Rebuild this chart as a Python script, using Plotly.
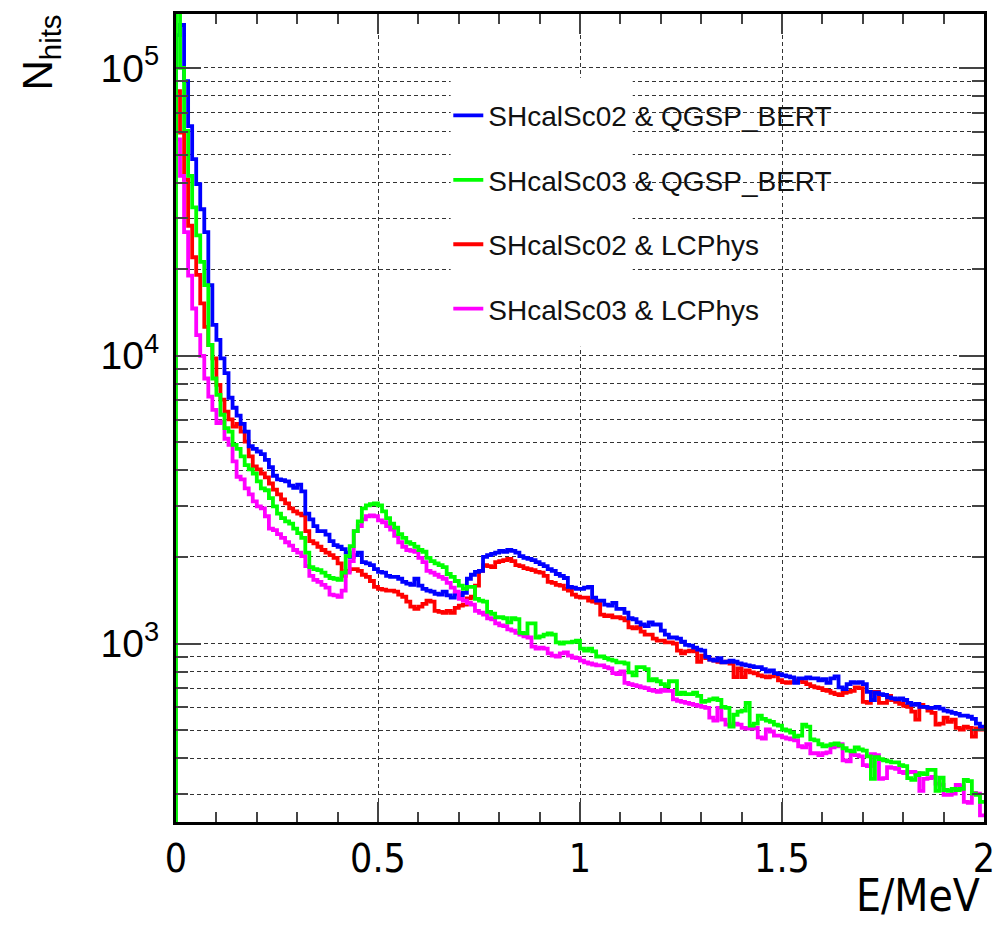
import numpy as np
import plotly.graph_objects as go

# Histogram: 200 bins of 0.01 MeV between 0 and 2 MeV
bin_width = 0.01
n_bins = 200
bin_edges = np.round(np.arange(n_bins + 1) * bin_width, 2)

labels = ["SHcalSc02 & QGSP_BERT", "SHcalSc03 & QGSP_BERT",
          "SHcalSc02 & LCPhys", "SHcalSc03 & LCPhys"]
colors = ["#0000ff", "#00ff00", "#ff0000", "#ff00ff"]

sc02_qgsp = [
    130000, 141000, 90000, 62800, 48200, 39500, 32300, 26900, 17600, 12800,
    11350, 9800, 8700, 7150, 6600, 6200, 5800, 5450, 4850, 4750,
    4650, 4550, 4350, 4100, 3830, 3720, 3700, 3660, 3540, 3480,
    3570, 3380, 2830, 2700, 2560, 2460, 2460, 2390, 2270, 2200,
    2170, 2130, 2070, 2000, 2030, 2070, 1920, 1900, 1875, 1815,
    1775, 1765, 1720, 1705, 1705, 1680, 1640, 1615, 1600, 1680,
    1590, 1550, 1528, 1515, 1490, 1480, 1515, 1470, 1445, 1490,
    1470, 1500, 1680, 1735, 1775, 1790, 2000, 2030, 2050, 2070,
    2100, 2085, 2115, 2100, 2070, 2015, 1985, 1970, 1950, 1920,
    1890, 1860, 1815, 1790, 1745, 1720, 1690, 1575, 1565, 1550,
    1550, 1565, 1575, 1445, 1410, 1410, 1365, 1355, 1385, 1320,
    1320, 1280, 1225, 1215, 1185, 1165, 1150, 1185, 1165, 1165,
    1110, 1075, 1050, 1050, 1040, 1015, 990, 984, 968, 953,
    946, 900, 880, 873, 890, 860, 865, 873, 865, 853,
    846, 840, 835, 828, 828, 815, 800, 807, 790, 783,
    776, 770, 763, 730, 757, 757, 763, 757, 757, 746,
    752, 730, 757, 770, 705, 695, 723, 735, 730, 735,
    723, 680, 637, 675, 668, 663, 650, 645, 640, 645,
    637, 622, 613, 617, 603, 603, 598, 598, 603, 594,
    585, 580, 575, 570, 562, 562, 557, 548, 527, 515,
]

sc03_qgsp = [
    400000, 100000, 60400, 42200, 32800, 26200, 21200, 17600, 10900, 8340,
    7310, 6240, 5610, 5450, 4900, 4750, 4470, 4170, 4030, 3900,
    3660, 3460, 3410, 3200, 3000, 2830, 2730, 2660, 2610, 2510,
    2420, 2330, 2070, 1845, 1815, 1800, 1765, 1720, 1690, 1680,
    1665, 1765, 2015, 2180, 2460, 2660, 2950, 3020, 3050, 3070,
    3020, 2880, 2730, 2610, 2530, 2400, 2330, 2250, 2220, 2170,
    2115, 2085, 1985, 1936, 1900, 1875, 1845, 1745, 1705, 1650,
    1590, 1550, 1575, 1575, 1430, 1410, 1400, 1290, 1270, 1235,
    1235, 1225, 1185, 1225, 1215, 1090, 1085, 1175, 1175, 1050,
    1060, 1075, 1085, 1075, 1010, 1000, 1010, 1010, 1015, 1024,
    960, 946, 960, 940, 902, 902, 890, 880, 873, 860,
    860, 853, 794, 776, 828, 828, 815, 746, 752, 740,
    723, 712, 740, 740, 668, 675, 668, 668, 675, 658,
    627, 632, 640, 645, 637, 603, 598, 515, 566, 580,
    585, 622, 519, 527, 562, 548, 540, 535, 523, 519,
    503, 499, 491, 475, 479, 523, 515, 465, 461, 447,
    440, 443, 447, 450, 443, 433, 425, 422, 436, 429,
    425, 406, 339, 403, 397, 393, 390, 387, 387, 378,
    375, 341, 336, 349, 355, 352, 364, 364, 308, 342,
    310, 308, 313, 310, 313, 336, 333, 301, 298, 282,
]

sc02_lcphys = [
    83000, 59600, 41000, 28300, 22000, 19100, 15200, 12600, 10900, 9800,
    7930, 7040, 6400, 6010, 5680, 5800, 5450, 5030, 4470, 4130,
    4030, 3900, 3780, 3600, 3430, 3300, 3170, 3070, 2950, 2880,
    2830, 2790, 2460, 2270, 2230, 2170, 2115, 2070, 2030, 1985,
    1900, 1720, 1790, 1815, 1815, 1790, 1735, 1705, 1650, 1575,
    1550, 1540, 1528, 1528, 1515, 1480, 1455, 1400, 1345, 1320,
    1345, 1375, 1410, 1400, 1300, 1290, 1280, 1300, 1280, 1330,
    1355, 1365, 1435, 1455, 1590, 1790, 1875, 1860, 1845, 1920,
    1936, 1950, 1970, 1936, 1875, 1860, 1830, 1815, 1800, 1775,
    1765, 1720, 1640, 1625, 1600, 1590, 1550, 1528, 1480, 1455,
    1445, 1445, 1410, 1400, 1385, 1260, 1245, 1252, 1235, 1235,
    1225, 1205, 1140, 1130, 1140, 1100, 1075, 1075, 1040, 1024,
    1024, 1010, 1010, 1000, 946, 925, 940, 946, 940, 865,
    909, 890, 880, 873, 865, 860, 865, 853, 765, 820,
    765, 807, 794, 788, 776, 770, 763, 770, 783, 746,
    735, 730, 735, 740, 746, 735, 723, 712, 705, 700,
    690, 685, 675, 668, 663, 675, 680, 685, 705, 700,
    627, 622, 680, 680, 622, 622, 658, 637, 627, 617,
    608, 603, 580, 544, 613, 603, 585, 575, 523, 527,
    553, 535, 544, 510, 503, 515, 510, 475, 507, 503,
]

sc03_lcphys = [
    56500, 42200, 26900, 19000, 14600, 11800, 10000, 8340, 7210, 6490,
    5840, 5900, 5150, 4900, 4300, 3800, 3720, 3460, 3300, 3120,
    3000, 2950, 2770, 2510, 2480, 2400, 2330, 2250, 2190, 2115,
    2070, 2015, 1860, 1720, 1665, 1640, 1600, 1565, 1480, 1470,
    1455, 1528, 1765, 1936, 2460, 2560, 2700, 2770, 2790, 2770,
    2680, 2640, 2560, 2490, 2370, 2250, 2170, 2115, 2100, 2085,
    1985, 1920, 1790, 1765, 1735, 1705, 1680, 1625, 1565, 1515,
    1430, 1410, 1385, 1365, 1300, 1280, 1260, 1225, 1215, 1175,
    1158, 1150, 1120, 1110, 1090, 1075, 1060, 1050, 976, 960,
    968, 960, 925, 909, 902, 925, 932, 909, 895, 890,
    873, 860, 853, 846, 840, 840, 828, 820, 790, 783,
    800, 730, 723, 717, 712, 705, 700, 690, 685, 680,
    690, 685, 685, 640, 632, 627, 622, 617, 613, 608,
    603, 598, 553, 540, 598, 544, 523, 519, 527, 523,
    510, 507, 507, 510, 472, 468, 503, 495, 479, 479,
    472, 468, 465, 461, 440, 436, 447, 416, 416, 410,
    416, 419, 436, 440, 447, 393, 390, 413, 410, 406,
    378, 375, 413, 410, 339, 341, 372, 370, 367, 358,
    355, 358, 358, 355, 308, 339, 341, 344, 326, 323,
    298, 298, 301, 323, 320, 282, 280, 303, 301, 253,
]

series = [sc02_qgsp, sc03_qgsp, sc02_lcphys, sc03_lcphys]
draw_order = [2, 0, 3, 1]   # red, blue, magenta, green (green on top)

y_decades = [1e3, 1e4, 1e5]
y_decade_text = ["10<sup>3</sup>", "10<sup>4</sup>", "10<sup>5</sup>"]
y_minor = [300, 400, 500, 600, 700, 800, 900,
           2000, 3000, 4000, 5000, 6000, 7000, 8000, 9000,
           20000, 30000, 40000, 50000, 60000, 70000, 80000, 90000]
x_major = [0, 0.5, 1, 1.5, 2]
x_major_text = ["0", "0.5", "1", "1.5", "2"]

narrow_font = "Liberation Sans Narrow, DejaVu Sans Condensed, Arial Narrow, sans-serif"

fig = go.Figure()
for k in draw_order:
    vals = series[k]
    xs = [0.0] + list(bin_edges)
    ys = [1.0] + list(vals) + [vals[-1]]
    fig.add_trace(go.Scatter(
        x=xs, y=ys, mode="lines", line_shape="hv",
        line=dict(color=colors[k], width=3.8),
        name=labels[k], legendgroup=f"g{k}", legendrank=k + 1,
        hoverinfo="skip",
    ))

grid = dict(showgrid=True, gridcolor="#333333", gridwidth=1, griddash="4px,3px")

fig.update_layout(
    width=1006, height=927,
    margin=dict(l=176, r=18, t=11, b=105),
    paper_bgcolor="white", plot_bgcolor="white",
    showlegend=True,
    legend=dict(
        x=0.337, y=0.905, xanchor="left", yanchor="top",
        bgcolor="rgba(0,0,0,0)", borderwidth=0,
        font=dict(family="Liberation Sans, Arial, sans-serif", size=28, color="#111"),
        traceorder="grouped", tracegroupgap=25, itemwidth=30,
    ),
    xaxis=dict(
        range=[0, 2], tickmode="array", tickvals=x_major, ticktext=x_major_text,
        ticks="inside", ticklen=20, tickwidth=1.5, tickcolor="#444",
        showline=True, linewidth=3, linecolor="black", mirror="ticks",
        zeroline=False,
        tickfont=dict(family=narrow_font, size=39, color="black"),
        ticklabelstandoff=0,
        minor=dict(dtick=0.1, ticks="inside", ticklen=10, tickwidth=1.5,
                   tickcolor="#444", showgrid=False),
        **grid,
    ),
    yaxis=dict(
        type="log", range=[np.log10(240), np.log10(154000)],
        tickmode="array", tickvals=y_decades, ticktext=y_decade_text,
        ticks="inside", ticklen=25, tickwidth=1.5, tickcolor="#444",
        showline=True, linewidth=3, linecolor="black", mirror="ticks",
        zeroline=False,
        tickfont=dict(family="Liberation Sans, Arial, sans-serif", size=39, color="black"),
        ticklabelstandoff=6,
        minor=dict(tickmode="array", tickvals=y_minor, ticks="inside", ticklen=12,
                   tickwidth=1.5, tickcolor="#444",
                   showgrid=True, gridcolor="#333333", gridwidth=1, griddash="4px,3px"),
        **grid,
    ),
    shapes=[dict(type="rect", xref="paper", yref="paper",
                 x0=(452 - 176) / 812, x1=(635 - 176) / 812,
                 y0=(822 - 345) / 811, y1=(822 - 75) / 811,
                 fillcolor="white", line=dict(width=0), layer="above")],
    annotations=[
        dict(text="N<sub>hits</sub>", xref="paper", yref="paper",
             x=(40 - 176) / 812, y=(822 - 50) / 811, textangle=-90,
             showarrow=False, xanchor="center", yanchor="middle",
             font=dict(family="Liberation Sans, Arial, sans-serif", size=42, color="black")),
        dict(text="E/MeV", xref="paper", yref="paper",
             x=(986 - 176) / 812, y=(822 - 868) / 811, showarrow=False,
             xanchor="right", yanchor="top",
             font=dict(family=narrow_font, size=44, color="black")),
    ],
)

fig.write_html("out.html")
